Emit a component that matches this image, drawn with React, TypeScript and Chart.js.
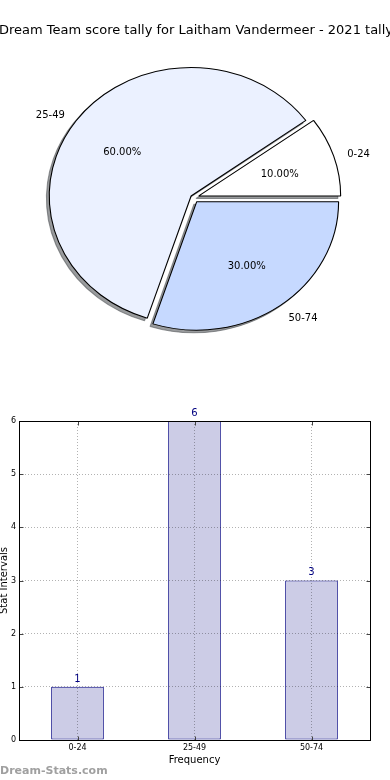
import React, { useEffect, useRef } from 'react';
import { Chart, registerables } from 'chart.js';

Chart.register(...registerables);

const TITLE = 'Dream Team score tally for Laitham Vandermeer - 2021 tally';
const WATERMARK = 'Dream-Stats.com';
const X_TITLE = 'Frequency';
const Y_TITLE = 'Stat Intervals';

const categories = ['0-24', '25-49', '50-74'];
const frequencies = [1, 6, 3];
const pieColors = ['#ffffff', '#ebf1ff', '#c6d9ff'];
const pieExplode = [0.04, 0.02, 0.04];
const yTickValues = [0, 1, 2, 3, 4, 5, 6];

const FONT = '"DejaVu Sans", sans-serif';
const PIE_X_STRETCH = 1.104;
const GRID_COLOR = 'rgba(0,0,0,0.3)';

// Chart.js draws clockwise; matplotlib draws counter-clockwise from east.
const pieOrder = categories.map((_, i) => categories.length - 1 - i);

const piePlugin: any = {
  id: 'mplPie',
  beforeDatasetsDraw(chart: any) {
    const ctx = chart.ctx;
    const arcs = chart.getDatasetMeta(0).data;
    if (!arcs.length) return;
    const cx = arcs[0].x;
    const cy = arcs[0].y;
    const pass = (shadow: boolean) => {
      arcs.forEach((arc: any, k: number) => {
        const i = pieOrder[k];
        const mid = (arc.startAngle + arc.endAngle) / 2;
        const d = pieExplode[i] * arc.outerRadius;
        ctx.save();
        if (shadow) {
          ctx.translate(-5000, 0);
          ctx.shadowColor = 'rgba(70,72,77,0.55)';
          ctx.shadowBlur = 0;
          ctx.shadowOffsetX = 5000 - 2.8;
          ctx.shadowOffsetY = 2.6;
        }
        ctx.translate(cx, cy);
        ctx.scale(PIE_X_STRETCH, 1);
        ctx.translate(-cx, -cy);
        ctx.translate(Math.cos(mid) * d, Math.sin(mid) * d);
        arc.draw(ctx);
        ctx.restore();
      });
    };
    pass(true);
    pass(false);
    return false;
  },
  afterDraw(chart: any) {
    const ctx = chart.ctx;
    const arcs = chart.getDatasetMeta(0).data;
    ctx.save();
    ctx.fillStyle = '#000';
    ctx.font = `13px ${FONT}`;
    ctx.textAlign = 'center';
    ctx.textBaseline = 'alphabetic';
    ctx.fillText(TITLE, 196, 33.8);
    if (arcs.length) {
      const cx = arcs[0].x;
      const cy = arcs[0].y;
      const total = frequencies.reduce((a, b) => a + b, 0);
      ctx.font = `10px ${FONT}`;
      ctx.textBaseline = 'alphabetic';
      const base = 4.6;
      arcs.forEach((arc: any, k: number) => {
        const i = pieOrder[k];
        const mid = (arc.startAngle + arc.endAngle) / 2;
        const r = arc.outerRadius;
        const ux = Math.cos(mid) * PIE_X_STRETCH * r;
        const uy = Math.sin(mid) * r;
        const vx = cx + ux * pieExplode[i];
        const vy = cy + uy * pieExplode[i];
        ctx.textAlign = Math.cos(mid) > 0 ? 'left' : 'right';
        ctx.fillText(categories[i], vx + ux * 1.1, vy + uy * 1.1 + base);
        ctx.textAlign = 'center';
        const pct = ((frequencies[i] / total) * 100).toFixed(2) + '%';
        ctx.fillText(pct, vx + ux * 0.6, vy + uy * 0.6 + base);
      });
    }
    ctx.restore();
  },
};

const barPlugin: any = {
  id: 'mplBar',
  afterDraw(chart: any) {
    const ctx = chart.ctx;
    const { left, right, top, bottom } = chart.chartArea;
    const xs = chart.scales.x;
    const ys = chart.scales.y;
    const L = Math.round(left) + 0.5;
    const R = Math.round(right) + 0.5;
    const T = Math.round(top) + 0.5;
    const B = Math.round(bottom) + 0.5;
    ctx.save();
    // inward tick marks
    ctx.strokeStyle = '#444';
    ctx.lineWidth = 1;
    ctx.beginPath();
    yTickValues.forEach((v) => {
      const y = Math.round(ys.getPixelForValue(v)) + 0.5;
      ctx.moveTo(L, y);
      ctx.lineTo(L + 4, y);
      ctx.moveTo(R, y);
      ctx.lineTo(R - 4, y);
    });
    categories.forEach((_, i) => {
      const x = Math.round(xs.getPixelForValue(i)) + 0.5;
      ctx.moveTo(x, B);
      ctx.lineTo(x, B - 4);
      ctx.moveTo(x, T);
      ctx.lineTo(x, T + 4);
    });
    ctx.stroke();
    // frame
    ctx.strokeStyle = '#000';
    ctx.strokeRect(L, T, R - L, B - T);
    // value labels
    const bars = chart.getDatasetMeta(0).data;
    ctx.fillStyle = '#000080';
    ctx.font = `10px ${FONT}`;
    ctx.textAlign = 'center';
    ctx.textBaseline = 'alphabetic';
    bars.forEach((bar: any, i: number) => {
      ctx.fillText(String(frequencies[i]), bar.x, bar.y - 5.2);
    });
    // watermark
    ctx.fillStyle = '#a0a0a0';
    ctx.font = `bold 11px ${FONT}`;
    ctx.textAlign = 'left';
    ctx.fillText(WATERMARK, 0, chart.height - 6);
    ctx.restore();
  },
};

export default function App() {
  const pieRef = useRef<HTMLCanvasElement>(null);
  const barRef = useRef<HTMLCanvasElement>(null);

  useEffect(() => {
    const pie = new Chart(pieRef.current as HTMLCanvasElement, {
      type: 'pie',
      data: {
        labels: pieOrder.map((i) => categories[i]),
        datasets: [
          {
            data: pieOrder.map((i) => frequencies[i]),
            backgroundColor: pieOrder.map((i) => pieColors[i]),
            borderColor: '#000000',
            borderWidth: 1,
            offset: 0,
          } as any,
        ],
      },
      options: {
        responsive: false,
        animation: false,
        devicePixelRatio: 1,
        events: [],
        rotation: 90,
        radius: 128.5,
        layout: { padding: { left: 0, right: 3.2, top: 0, bottom: 5.0 } },
        plugins: { legend: { display: false }, tooltip: { enabled: false } },
      } as any,
      plugins: [piePlugin],
    });

    const bar = new Chart(barRef.current as HTMLCanvasElement, {
      type: 'bar',
      data: {
        labels: categories,
        datasets: [
          {
            data: frequencies,
            backgroundColor: '#ccccE6',
            borderColor: '#000080',
            borderWidth: 1,
            borderSkipped: false,
            barPercentage: 0.45,
            categoryPercentage: 1,
          } as any,
        ],
      },
      options: {
        responsive: false,
        animation: false,
        devicePixelRatio: 1,
        events: [],
        layout: { padding: { left: 0, right: 20, top: 21, bottom: 0 } },
        plugins: { legend: { display: false }, tooltip: { enabled: false } },
        scales: {
          x: {
            offset: true,
            grid: { offset: false, color: GRID_COLOR, lineWidth: 1, drawTicks: false, z: 1 },
            border: { display: false, dash: [1, 2] },
            ticks: { color: '#000', font: { family: FONT, size: 8 }, padding: 3 },
            title: {
              display: true,
              text: X_TITLE,
              color: '#000',
              font: { family: FONT, size: 10 },
              padding: { top: 0, bottom: 14 },
            },
            afterFit: (s: any) => {
              s.height = 40;
            },
          },
          y: {
            min: 0,
            max: 6,
            afterBuildTicks: (s: any) => {
              s.ticks = yTickValues.map((v) => ({ value: v }));
            },
            grid: { color: GRID_COLOR, lineWidth: 1, drawTicks: false, z: 1 },
            border: { display: false, dash: [1, 2] },
            ticks: { color: '#000', font: { family: FONT, size: 8 }, padding: 3 },
            title: {
              display: true,
              text: Y_TITLE,
              color: '#000',
              font: { family: FONT, size: 10 },
              padding: { top: -1.5, bottom: 0 },
            },
            afterFit: (s: any) => {
              s.width = 19;
            },
          },
        },
      } as any,
      plugins: [barPlugin],
    });

    return () => {
      pie.destroy();
      bar.destroy();
    };
  }, []);

  return (
    <div
      style={{
        position: 'absolute',
        left: 0,
        top: 0,
        width: 390,
        height: 780,
        background: '#ffffff',
        overflow: 'hidden',
      }}
    >
      <canvas
        ref={pieRef}
        width={390}
        height={400}
        style={{ position: 'absolute', left: 0, top: 0, width: 390, height: 400 }}
      />
      <canvas
        ref={barRef}
        width={390}
        height={380}
        style={{ position: 'absolute', left: 0, top: 400, width: 390, height: 380 }}
      />
    </div>
  );
}
